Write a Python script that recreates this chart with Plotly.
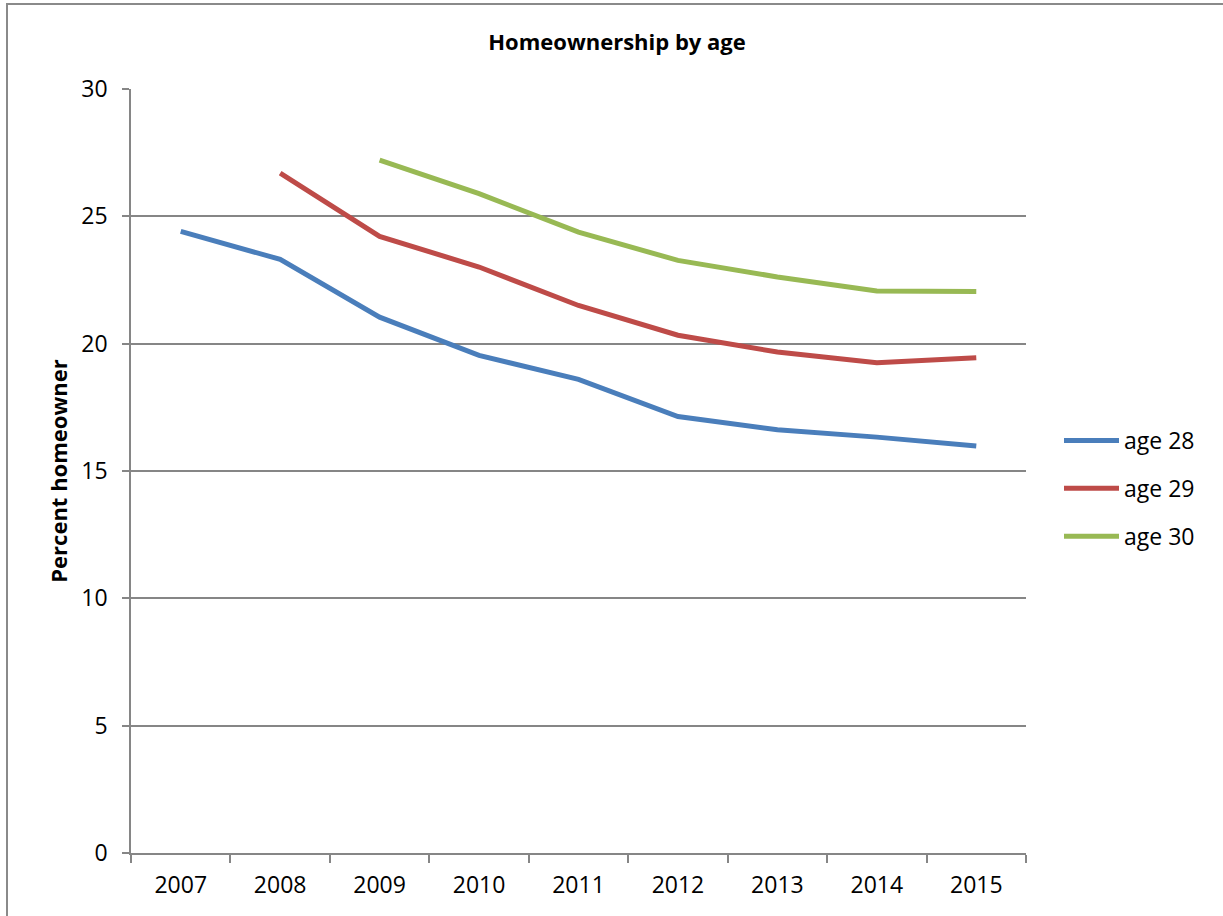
import plotly.graph_objects as go

# Survey years and share of people owning a home, by age
years = ["2007", "2008", "2009", "2010", "2011", "2012", "2013", "2014", "2015"]
age_28 = [24.41, 23.31, 21.04, 19.54, 18.60, 17.14, 16.62, 16.33, 15.98]
age_29 = [None, 26.70, 24.21, 23.01, 21.50, 20.33, 19.67, 19.25, 19.45]
age_30 = [None, None, 27.21, 25.89, 24.38, 23.27, 22.62, 22.07, 22.05]

series_names = ["age 28", "age 29", "age 30"]
series_values = [age_28, age_29, age_30]
series_colors = ["#4a7ebb", "#be4b48", "#98b954"]

FONT = "Open Sans"
GRID = "#868686"

W, H = 1223, 916
L, R, T, B = 131, 197, 89, 63

fig = go.Figure()
for i, (name, vals, col) in enumerate(zip(series_names, series_values, series_colors)):
    fig.add_trace(go.Scatter(
        x=years, y=vals, name=name, mode="lines",
        line=dict(color=col, width=5),
        legendgroup=f"g{i}",
        connectgaps=False,
    ))

pw = W - L - R
ph = H - T - B
# outer chart frame
fig.add_shape(
    type="rect", xref="paper", yref="paper",
    x0=(7 - L) / pw, x1=(W + 10 - L) / pw,
    y0=(H - B - (H + 10)) / ph, y1=(H - B - 4) / ph,
    line=dict(color="#8a8a8a", width=2), fillcolor="rgba(0,0,0,0)",
    layer="below",
)

fig.update_layout(
    width=W, height=H,
    margin=dict(l=L, r=R, t=T, b=B),
    paper_bgcolor="white", plot_bgcolor="white",
    font=dict(family=FONT, size=23, color="black"),
    title=dict(
        text="<b>Homeownership by age</b>",
        font=dict(family=FONT, size=22, color="black"),
        x=617 / W, xref="container", xanchor="center",
        y=1 - 42 / H, yref="container", yanchor="middle",
    ),
    xaxis=dict(
        type="category",
        tickson="boundaries",
        ticks="outside", ticklen=8, tickwidth=1.5, tickcolor=GRID,
        showgrid=False,
        showline=True, linecolor=GRID, linewidth=1.5,
        tickfont=dict(family=FONT, size=23, color="black"),
        ticklabelstandoff=11,
        range=[-0.5, 8.5],
    ),
    yaxis=dict(
        range=[0, 30], dtick=5, tick0=0,
        ticks="outside", ticklen=7, tickwidth=1.5, tickcolor=GRID,
        showgrid=True, gridcolor=GRID, gridwidth=1.5,
        showline=True, linecolor=GRID, linewidth=1.5,
        zeroline=False,
        tickfont=dict(family=FONT, size=23, color="black"),
        ticklabelstandoff=10,
        title=dict(text="<b>Percent homeowner</b>",
                   font=dict(family=FONT, size=22, color="black"),
                   standoff=8),
    ),
    legend=dict(
        x=(1059 - L) / pw, xanchor="left",
        y=(H - B - 419) / ph, yanchor="top",
        font=dict(family=FONT, size=23, color="black"),
        itemwidth=55,
        tracegroupgap=15,
        bgcolor="rgba(0,0,0,0)",
    ),
    showlegend=True,
)

fig.write_html("out.html")
